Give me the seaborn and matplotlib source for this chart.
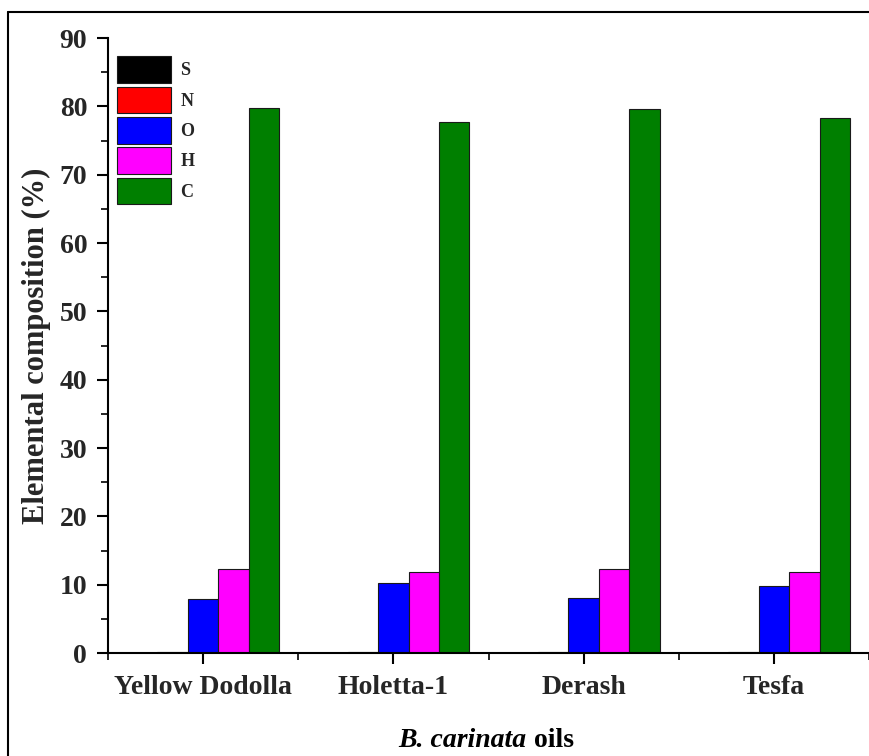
import pandas as pd
import matplotlib.pyplot as plt
import seaborn as sns
from matplotlib.lines import Line2D
from matplotlib.ticker import MultipleLocator
from matplotlib.offsetbox import TextArea, HPacker, AnchoredOffsetbox

# Elemental composition of B. carinata oils (%)
oils = ['Yellow Dodolla', 'Holetta-1', 'Derash', 'Tesfa']
elements = ['S', 'N', 'O', 'H', 'C']
S = [0.05, 0.05, 0.05, 0.05]
N = [0.15, 0.15, 0.1, 0.1]
O = [7.9, 10.2, 8.0, 9.8]
H = [12.3, 11.9, 12.3, 11.9]
C = [79.8, 77.7, 79.6, 78.3]
colors = ['#000000', '#ff0000', '#0000ff', '#ff00ff', '#007f00']

rows = []
for el, vals in zip(elements, [S, N, O, H, C]):
    for oil, v in zip(oils, vals):
        rows.append({'oil': oil, 'element': el, 'value': v})
df = pd.DataFrame(rows)

sns.set_theme(style='ticks')
plt.rcParams['font.family'] = ['Liberation Serif', 'DejaVu Serif']
plt.rcParams['font.weight'] = 'bold'

fig = plt.figure(figsize=(8.69, 7.56), dpi=100)
ax = fig.add_axes([0.1243, 0.1362, 0.8757, 0.8135])

sns.barplot(data=df, x='oil', y='value', hue='element', order=oils,
            hue_order=elements, palette=colors, width=0.8, saturation=1,
            edgecolor='#1a1a1a', linewidth=0.8, ax=ax)

ax.set_xlim(-0.5, 3.5)
ax.set_ylim(0, 90)
ax.yaxis.set_major_locator(MultipleLocator(10))
ax.yaxis.set_minor_locator(MultipleLocator(5))
ax.xaxis.set_minor_locator(MultipleLocator(0.5))
ax.tick_params(axis='both', which='major', length=8, width=1.5,
               labelsize=20, direction='out', color='black')
ax.tick_params(axis='x', which='major', pad=8)
ax.tick_params(axis='y', which='major', pad=7)
ax.tick_params(axis='both', which='minor', length=5, width=1.2,
               direction='out', color='black')
for lab in ax.get_xticklabels() + ax.get_yticklabels():
    lab.set_fontweight('bold')

ax.spines['top'].set_visible(False)
ax.spines['right'].set_visible(False)
for side in ['left', 'bottom']:
    ax.spines[side].set_linewidth(1.5)
    ax.spines[side].set_color('black')

ax.set_ylabel('Elemental composition (%)', fontsize=22, fontweight='bold',
              labelpad=6)
ax.set_xlabel('')

# x label with italic species name
lbl_it = TextArea('B. carinata', textprops=dict(fontsize=20, fontweight='bold',
                                                fontstyle='italic', color='black'))
lbl_rm = TextArea(' oils', textprops=dict(fontsize=20, fontweight='bold',
                                          color='black'))
lbl = HPacker(children=[lbl_it, lbl_rm], align='baseline', pad=0, sep=0)
ax.add_artist(AnchoredOffsetbox(loc='center', child=lbl, frameon=False,
                                bbox_to_anchor=(0.497, -0.142),
                                bbox_transform=ax.transAxes, borderpad=0))

leg = ax.legend(loc='upper left', bbox_to_anchor=(0.0, 0.985), frameon=False,
                fontsize=13, handlelength=3.0, handleheight=1.9,
                labelspacing=0.2, handletextpad=0.5, borderaxespad=0.1)
for t in leg.get_texts():
    t.set_fontweight('bold')

# outer frame of the figure (top and left visible)
fig.add_artist(Line2D([0.009, 1.0], [0.984, 0.984], transform=fig.transFigure,
                      color='black', linewidth=1.5))
fig.add_artist(Line2D([0.009, 0.009], [0.0, 0.984], transform=fig.transFigure,
                      color='black', linewidth=1.5))

fig.savefig('out.png', dpi=100)
